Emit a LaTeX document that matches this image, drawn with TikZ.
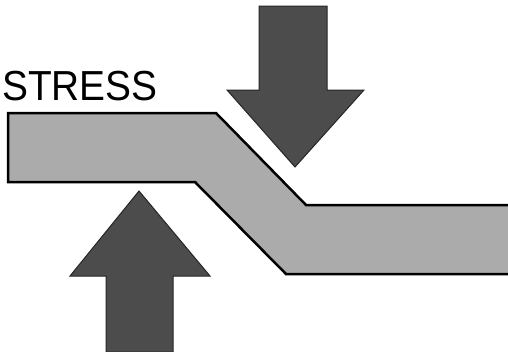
\documentclass[tikz,border=0pt]{standalone}
\usepackage{fontspec}
\setmainfont{Liberation Sans}
\begin{document}
\begin{tikzpicture}[x=1pt,y=-1pt,
  bandfill/.style={fill=black!33},
  bandline/.style={line width=2.5pt,line join=miter},
  arrowfill/.style={fill=black!70,draw=black!85,line width=1pt,line join=miter}]
\useasboundingbox (0,0) rectangle (508,351);
% band
\fill[bandfill] (8,113) -- (216,113) -- (306,205) -- (509,205) -- (509,274) -- (286,274) -- (195,182) -- (8,182) -- cycle;
\draw[bandline] (509,205) -- (306,205) -- (216,113) -- (8,113) -- (8,182) -- (195,182) -- (286,274) -- (509,274);
% down arrow
\path[arrowfill] (259,6) -- (327,6) -- (327,90) -- (364,90) -- (295,167) -- (227,90) -- (259,90) -- cycle;
% up arrow
\path[arrowfill] (106,352) -- (106,276) -- (70,276) -- (139,191) -- (210,276) -- (173,276) -- (173,352) -- cycle;
% label
\node[anchor=base west,inner sep=0pt,font=\fontsize{42}{42}\selectfont,xscale=0.925,text=black] (stress) at (2,100) {STRESS};
\end{tikzpicture}
\end{document}
